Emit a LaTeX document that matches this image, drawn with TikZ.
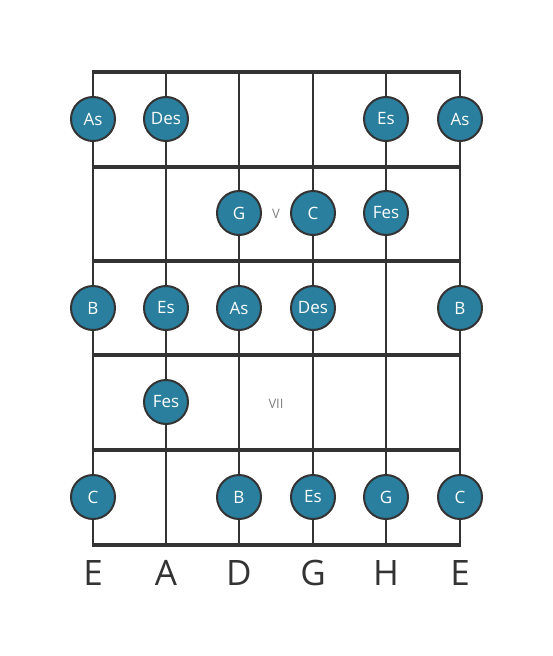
\documentclass[tikz,border=0pt]{standalone}
\usepackage{fontspec}
\setmainfont{Open Sans}
\definecolor{dotblue}{RGB}{42,127,158}
\definecolor{ink}{RGB}{51,51,51}
\begin{document}
\begin{tikzpicture}[x=1pt, y=-1pt,
    dot/.style={circle, fill=dotblue, draw=ink, line width=2pt, minimum size=44pt, inner sep=0pt, text=white, font=\fontsize{17}{17}\selectfont},
    fret/.style={ink, line width=4pt},
    string/.style={ink, line width=2.2pt},
    posmark/.style={text=gray, font=\fontsize{13}{13}\selectfont},
    stringname/.style={text=ink, font=\fontsize{35}{35}\selectfont}]
\useasboundingbox (0,0) rectangle (553,656);
% strings
\foreach \x in {93,166,239,313,386,460}
  \draw[string] (\x,72)--(\x,545);
% frets
\foreach \y in {72,167,261,355,450,545}
  \draw[fret] (92,\y)--(461,\y);
% position marks
\node[posmark] (v) at (276,214) {V};
\node[posmark] (vii) at (276,404) {VII};
% notes
\node[dot] (as1) at (93,119) {As};
\node[dot] (des1) at (166,119) {Des};
\node[dot] (es1) at (386,119) {Es};
\node[dot] (as6) at (460,119) {As};
\node[dot] (g3) at (239,213) {G};
\node[dot] (c4) at (313,213) {C};
\node[dot] (fes5) at (386,213) {Fes};
\node[dot] (b1) at (93,308) {B};
\node[dot] (es2) at (166,308) {Es};
\node[dot] (as3) at (239,308) {As};
\node[dot] (des4) at (313,308) {Des};
\node[dot] (b6) at (460,308) {B};
\node[dot] (fes2) at (166,402) {Fes};
\node[dot] (c1) at (93,497) {C};
\node[dot] (b3) at (239,497) {B};
\node[dot] (es4) at (313,497) {Es};
\node[dot] (g5) at (386,497) {G};
\node[dot] (c6) at (460,497) {C};
% string names
\node[stringname] (s1) at (93,573) {E};
\node[stringname] (s2) at (166,573) {A};
\node[stringname] (s3) at (239,573) {D};
\node[stringname] (s4) at (313,573) {G};
\node[stringname] (s5) at (386,573) {H};
\node[stringname] (s6) at (460,573) {E};
\end{tikzpicture}
\end{document}
